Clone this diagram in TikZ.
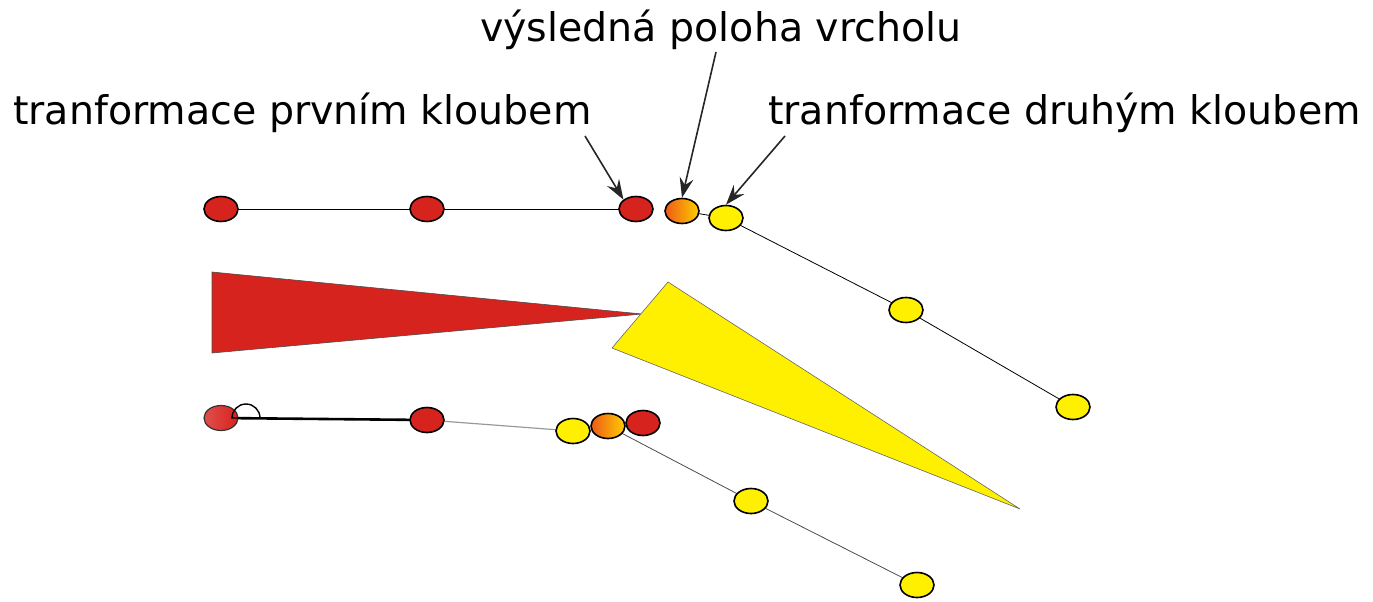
\documentclass[tikz,border=0pt]{standalone}
\usepackage{fontspec}
\setmainfont{DejaVu Sans}
\usetikzlibrary{arrows.meta,shadings,shapes.geometric}
\definecolor{jred}{RGB}{215,35,30}
\definecolor{jyel}{RGB}{255,240,0}
\definecolor{jorg}{RGB}{235,100,25}
\tikzset{
  x=1pt,y=-1pt,
  joint/.style={draw=black,line width=1.6pt,ellipse,minimum width=34pt,minimum height=25pt,inner sep=0pt},
  rj/.style={joint,fill=jred},
  yj/.style={joint,fill=jyel},
  oj/.style={joint,left color=jorg!90!red,right color=jyel!70!orange},
  link/.style={draw=black,line width=0.8pt},
  glink/.style={draw=gray!80,line width=1.2pt},
  lbl/.style={font=\fontsize{39.5}{44}\selectfont,inner sep=0pt,anchor=base west},
  arr/.style={draw=black!85,line width=1.6pt,-{Stealth[length=20pt,width=14pt,inset=7pt]}}
}
\begin{document}
\begin{tikzpicture}
\useasboundingbox (0,0) rectangle (1373,602);
% labels
\node[lbl] (t1) at (13,124) {tranformace prvním kloubem};
\node[lbl] (t2) at (480,42) {výsledná poloha vrcholu};
\node[lbl] (t3) at (768,124) {tranformace druhým kloubem};
% triangles
\draw[fill=jred,draw=black!70,line width=0.6pt] (212,272) -- (212,353) -- (642,314) -- cycle;
\draw[fill=jyel,draw=black!60,line width=0.6pt] (668,282) -- (612,348) -- (1020,509) -- cycle;
% top row
\coordinate (a1) at (221,209);
\coordinate (a2) at (427,209);
\coordinate (a3) at (636,209);
\coordinate (ao) at (682,211);
\coordinate (ay1) at (726,218);
\coordinate (ay2) at (906,310);
\coordinate (ay3) at (1073,407);
\draw[link] (a1) -- (a3);
\draw[link] (ao) -- (ay1) -- (ay2) -- (ay3);
\node[rj] (A1) at (a1) {};
\node[rj] (A2) at (a2) {};
\node[rj] (A3) at (a3) {};
\node[oj] (AO) at (ao) {};
\node[yj] (AY1) at (ay1) {};
\node[yj] (AY2) at (ay2) {};
\node[yj] (AY3) at (ay3) {};
% bottom row
\coordinate (b1) at (221,418);
\coordinate (b2) at (427,420);
\coordinate (by1) at (573,431);
\coordinate (bo) at (608,426);
\coordinate (br) at (643,423);
\coordinate (by2) at (751,501);
\coordinate (by3) at (917,585);
\draw[line width=2.6pt] (b1) -- (b2);
\draw[glink] (b2) -- (by1);
\draw[link,draw=black!70] (bo) -- (by2) -- (by3);
\node[joint,draw=black!80,line width=1.2pt,left color=jred!80!white,right color=jred] (B1) at (b1) {};
\draw[line width=1.4pt] (232,418) arc[start angle=180,end angle=360,radius=14] -- cycle;
\node[rj] (B2) at (b2) {};
\node[rj] (BR) at (br) {};
\node[yj] (BY1) at (by1) {};
\node[oj] (BO) at (bo) {};
\node[yj] (BY2) at (by2) {};
\node[yj] (BY3) at (by3) {};
% arrows
\coordinate (s1) at (585,136);
\coordinate (s2) at (716,52);
\coordinate (s3) at (785,136);
\draw[arr] (s1) -- (A3.north west);
\draw[arr] (s2) -- (AO.north);
\draw[arr] (s3) -- (AY1.north);
\end{tikzpicture}
\end{document}
